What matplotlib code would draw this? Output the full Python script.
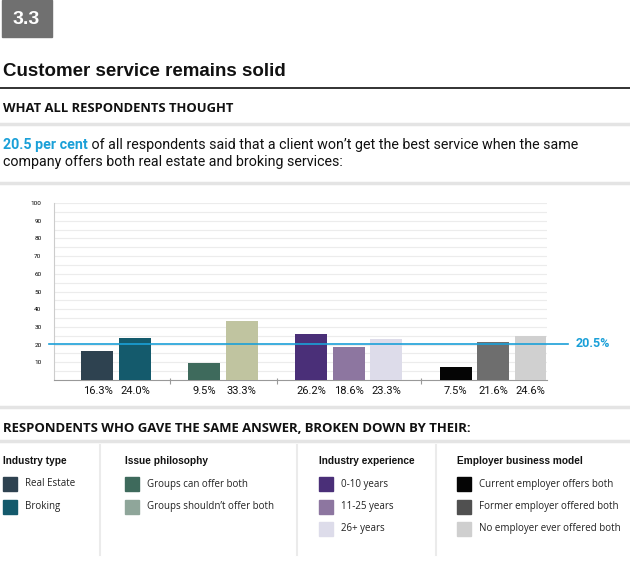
import matplotlib.pyplot as plt
from matplotlib.patches import Rectangle

group_titles = ['Industry type', 'Issue philosophy', 'Industry experience', 'Employer business model']
group_labels = [
    ['Real Estate', 'Broking'],
    ['Groups can offer both', 'Groups shouldn\u2019t offer both'],
    ['0-10 years', '11-25 years', '26+ years'],
    ['Current employer offers both', 'Former employer offered both', 'No employer ever offered both'],
]
group_values = [[16.3, 24.0], [9.5, 33.3], [26.2, 18.6, 23.3], [7.5, 21.6, 24.6]]
bar_colors = [['#2e4250', '#145a6c'], ['#3e6a5c', '#c0c4a0'],
              ['#4a2f78', '#8d76a0', '#dddcea'], ['#050505', '#6e6e6e', '#d0d0d0']]
swatch_colors = [['#2e4250', '#145a6c'], ['#3e6a5c', '#8fa69a'],
                 ['#4a2f78', '#8d76a0', '#dddcea'], ['#050505', '#505050', '#cfcfcf']]
average = 20.5
y_ticks = [10, 20, 30, 40, 50, 60, 70, 80, 90, 100]

BLUE = '#1ba0d8'
NARROW = 'Roboto'

fig = plt.figure(figsize=(6.3, 5.72), dpi=100)
fig.set_facecolor('white')

# page furniture in pixel coordinates
ax0 = fig.add_axes([0, 0, 1, 1])
ax0.set_xlim(0, 630)
ax0.set_ylim(572, 0)
ax0.axis('off')

ax0.add_patch(Rectangle((2, 0), 50, 37, color='#707070'))
ax0.text(26, 19, '3.3', color='white', fontsize=14, fontweight='bold',
         family='Liberation Sans', ha='center', va='center')
ax0.text(3, 72, 'Customer service remains solid', fontsize=13.5, fontweight='bold',
         family='Liberation Sans', va='center', color='#111111')
ax0.plot([0, 630], [88, 88], color='#222222', lw=1.3)
ax0.text(3, 109, 'WHAT ALL RESPONDENTS THOUGHT', fontsize=9.4, fontweight='bold',
         family='Open Sans', va='center', color='#111111')
for yy in [124, 183, 407, 441]:
    ax0.plot([0, 630], [yy, yy], color='#e4e4e4', lw=2.5)

t1 = ax0.text(3, 145, '20.5 per cent', color=BLUE, fontsize=10.3, fontweight='bold',
              family=NARROW, va='center')
ax0.annotate(' of all respondents said that a client won\u2019t get the best service when the same',
             xy=(1, 0), xycoords=t1, va='bottom', fontsize=10.3, family=NARROW, color='#111111')
ax0.text(3, 162, 'company offers both real estate and broking services:', fontsize=10.3,
         family=NARROW, va='center', color='#111111')

ax0.text(3, 429, 'RESPONDENTS WHO GAVE THE SAME ANSWER, BROKEN DOWN BY THEIR:', fontsize=9.45,
         fontweight='bold', family='Open Sans', va='center', color='#111111')

col_x = [3, 125, 319, 457]
for cx, title, labels, cols in zip(col_x, group_titles, group_labels, swatch_colors):
    ax0.text(cx, 461, title, fontsize=7.3, fontweight='bold', family='Liberation Sans',
             va='center', color='#111111')
    for i, (lab, c) in enumerate(zip(labels, cols)):
        yc = 484 + i * 22.5
        ax0.add_patch(Rectangle((cx, yc - 7), 14, 14, color=c))
        ax0.text(cx + 22, yc, lab, fontsize=7, family='Open Sans', va='center', color='#222222')
for dx in [100, 297, 436]:
    ax0.plot([dx, dx], [445, 555], color='#ebebeb', lw=1.5)

# bar chart
ax = fig.add_axes([54 / 630, 1 - 380 / 572, 493 / 630, 177 / 572])
gap = 0.85
start = 0
positions = []
for vals in group_values:
    positions.append([start + i for i in range(len(vals))])
    start += len(vals) + gap

for xs, vals, cols in zip(positions, group_values, bar_colors):
    ax.bar(xs, vals, width=0.853, color=cols, zorder=3)
    for xi, v in zip(xs, vals):
        ax.text(xi, -6.0, f'{v:.1f}%', ha='center', va='center', fontsize=8,
                family=NARROW, color='#111111')

seps = [(positions[i][-1] + positions[i + 1][0]) / 2 for i in range(len(positions) - 1)]
ax.vlines(seps, -2.5, 1.2, color='#999999', lw=0.8, clip_on=False)

ax.set_xlim(-1.16, 11.99)
ax.set_ylim(0, 100)
ax.set_xticks([])
ax.set_yticks(y_ticks)
ax.set_yticks(range(5, 101, 5), minor=True)
ax.tick_params(axis='y', which='both', length=0, pad=9, labelsize=4.6)
for lab in ax.get_yticklabels():
    lab.set_family(NARROW)
ax.grid(axis='y', which='both', color='#ececec', lw=0.8, zorder=0)
for s in ['top', 'right']:
    ax.spines[s].set_visible(False)
ax.spines['left'].set_color('#cccccc')
ax.spines['bottom'].set_color('#999999')

ax.axhline(average, xmin=-0.01, xmax=1.043, color=BLUE, lw=1.2, clip_on=False, zorder=4)
ax.text(1.059, average, f'{average}%', transform=ax.get_yaxis_transform(), color=BLUE,
        fontsize=9, fontweight='bold', family=NARROW, va='center')

fig.savefig('out.png', dpi=100)
